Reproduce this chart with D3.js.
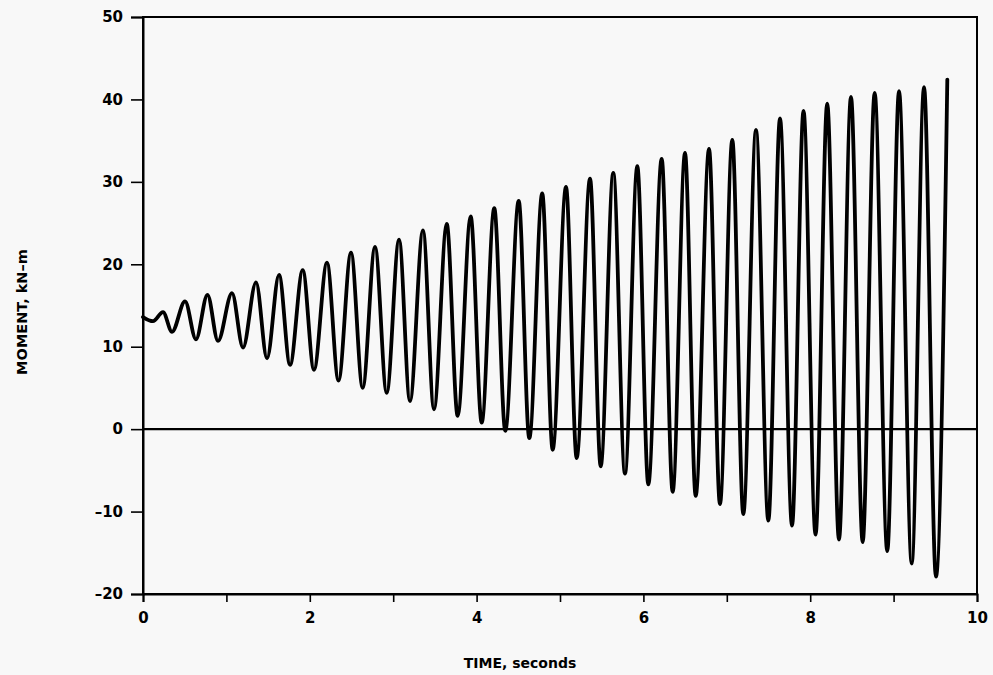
<!DOCTYPE html>
<html>
<head>
<meta charset="utf-8">
<script src="https://cdn.jsdelivr.net/npm/d3@7"></script>
<style>
  html, body { margin: 0; padding: 0; background: #f8f8f8; }
  svg { display: block; }
  text { font-family: "DejaVu Sans", "Liberation Sans", sans-serif; font-weight: bold; fill: #000; }
</style>
</head>
<body>
<svg id="chart" width="993" height="675"></svg>
<script>
const times = [
  0.000, 0.120, 0.240, 0.348, 0.504, 0.635, 0.773, 0.899, 1.067, 1.199,
  1.355, 1.487, 1.631, 1.763, 1.915, 2.050, 2.206, 2.344, 2.494, 2.634,
  2.782, 2.922, 3.070, 3.201, 3.357, 3.489, 3.642, 3.773, 3.929, 4.061,
  4.212, 4.344, 4.505, 4.632, 4.787, 4.912, 5.072, 5.200, 5.360, 5.488,
  5.639, 5.779, 5.927, 6.059, 6.219, 6.351, 6.499, 6.627, 6.787, 6.918,
  7.066, 7.198, 7.350, 7.498, 7.638, 7.782, 7.920, 8.064, 8.204, 8.345,
  8.489, 8.629, 8.773, 8.924, 9.065, 9.217, 9.365, 9.508, 9.644
];
const moments = [
  13.6, 13.1, 14.2, 11.8, 15.5, 10.9, 16.3, 10.7, 16.5, 9.9,
  17.8, 8.6, 18.7, 7.8, 19.3, 7.2, 20.2, 5.9, 21.4, 5.0,
  22.1, 4.4, 23.0, 3.4, 24.1, 2.4, 24.9, 1.6, 25.8, 0.8,
  26.8, -0.2, 27.7, -1.1, 28.6, -2.5, 29.4, -3.5, 30.4, -4.5,
  31.1, -5.4, 31.9, -6.7, 32.8, -7.6, 33.5, -8.1, 34.0, -9.1,
  35.1, -10.3, 36.3, -11.1, 37.7, -11.7, 38.6, -12.8, 39.5, -13.4,
  40.3, -13.7, 40.8, -14.8, 41.0, -16.3, 41.5, -17.9, 42.4
];
const xTicks = [0, 1, 2, 3, 4, 5, 6, 7, 8, 9, 10];
const xTickLabels = ["0", "", "2", "", "4", "", "6", "", "8", "", "10"];
const yTicks = [-20, -10, 0, 10, 20, 30, 40, 50];
const yTickLabels = ["\u201320", "\u201310", "0", "10", "20", "30", "40", "50"];
const xTitle = "TIME, seconds";
const yTitle = "MOMENT, kN\u2013m";

const svg = d3.select("#chart");
const mLeft = 143, mRight = 977, mTop = 17, mBottom = 594;

const x = d3.scaleLinear().domain([0, 10]).range([mLeft, mRight]);
const y = d3.scaleLinear().domain([-20, 50]).range([mBottom, mTop]);

// frame
svg.append("rect")
  .attr("x", mLeft).attr("y", mTop)
  .attr("width", mRight - mLeft).attr("height", mBottom - mTop)
  .attr("fill", "none").attr("stroke", "#000").attr("stroke-width", 2);

// zero line
svg.append("line")
  .attr("x1", x(0)).attr("x2", x(10))
  .attr("y1", y(0)).attr("y2", y(0))
  .attr("stroke", "#000").attr("stroke-width", 2.2);

// x axis
const xAxis = d3.axisBottom(x)
  .tickValues(xTicks)
  .tickFormat((d, i) => xTickLabels[i])
  .tickSize(8).tickPadding(10);
const gx = svg.append("g").attr("transform", `translate(0,${mBottom})`).call(xAxis);
gx.select(".domain").attr("stroke-width", 2);
gx.selectAll(".tick line").attr("stroke-width", 1.6);
gx.selectAll(".tick text").attr("font-size", 15).attr("font-family", "DejaVu Sans").attr("font-weight", "bold");

// y axis
const yAxis = d3.axisLeft(y)
  .tickValues(yTicks)
  .tickFormat((d, i) => yTickLabels[i])
  .tickSize(12).tickPadding(8);
const gy = svg.append("g").attr("transform", `translate(${mLeft},0)`).call(yAxis);
gy.select(".domain").attr("stroke-width", 2);
gy.selectAll(".tick line").attr("stroke-width", 1.6);
gy.selectAll(".tick text").attr("font-size", 15).attr("font-family", "DejaVu Sans").attr("font-weight", "bold");

// titles
svg.append("text")
  .attr("x", 520).attr("y", 668)
  .attr("text-anchor", "middle").attr("font-size", 14)
  .text(xTitle);
svg.append("text")
  .attr("transform", `translate(27,312) rotate(-90)`)
  .attr("text-anchor", "middle").attr("font-size", 14.5)
  .text(yTitle);

// trace
const data = times.map((t, i) => ({t, m: moments[i]}));
const line = d3.line()
  .x(d => x(d.t)).y(d => y(d.m))
  .curve(d3.curveMonotoneX);
svg.append("path")
  .datum(data)
  .attr("d", line)
  .attr("fill", "none")
  .attr("stroke", "#000")
  .attr("stroke-width", 3.8)
  .attr("stroke-linejoin", "round")
  .attr("stroke-linecap", "round");
</script>
</body>
</html>
